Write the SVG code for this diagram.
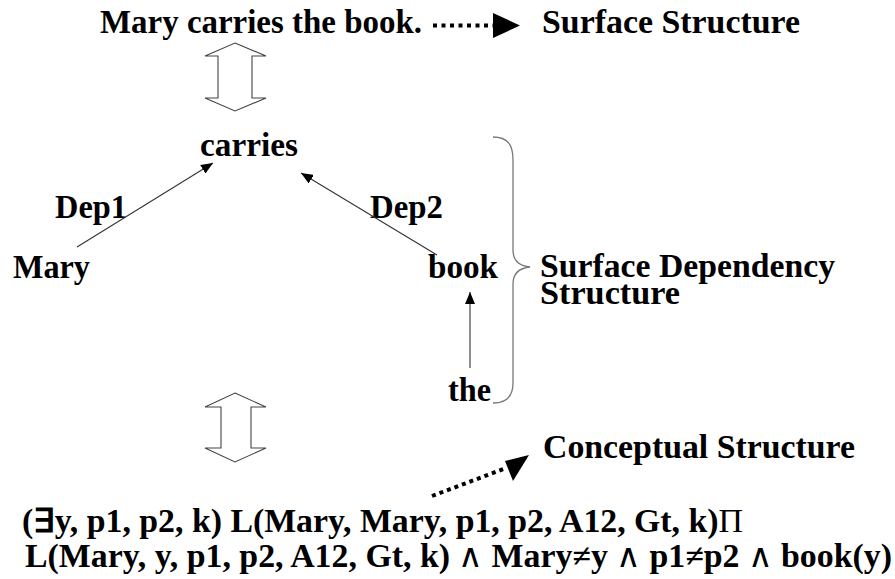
<svg xmlns="http://www.w3.org/2000/svg" width="895" height="579" viewBox="0 0 895 579">
  <style>
    .t { font-family: 'Liberation Serif', 'Times New Roman', Times, serif; font-weight: 700; fill: #000; font-size: 33px; }
    .thin { font-weight: 400; }
    .dep { stroke: #333; stroke-width: 1.1; fill: none; }
    .dbl { fill: #fff; stroke: #444; stroke-width: 1.1; }
    .brace { fill: none; stroke: #777; stroke-width: 1.3; }
    .dots { fill: none; stroke: #000; stroke-width: 4; }
  </style>
  <defs>
    <marker id="tip" viewBox="0 0 12 10" refX="12" refY="5" markerWidth="12" markerHeight="10" markerUnits="userSpaceOnUse" orient="auto">
      <path d="M0,0 L12,5 L0,10 z" fill="#000"/>
    </marker>
  </defs>

  <rect width="895" height="579" fill="#fff"/>

  <g font-family="Liberation Serif, serif" font-weight="bold">
    <!-- surface sentence -->
    <g id="sentence">
      <text class="t" x="100" y="33" textLength="322" lengthAdjust="spacingAndGlyphs">Mary carries the book.</text>
    </g>
    <g id="surface-structure">
      <text class="t" x="542" y="33" textLength="258" lengthAdjust="spacingAndGlyphs">Surface Structure</text>
    </g>

    <!-- dependency tree words -->
    <g id="carries"><text class="t" x="200" y="156" textLength="98" lengthAdjust="spacingAndGlyphs">carries</text></g>
    <g id="mary"><text class="t" x="13" y="278" textLength="77" lengthAdjust="spacingAndGlyphs">Mary</text></g>
    <g id="book"><text class="t" x="428" y="278" textLength="70" lengthAdjust="spacingAndGlyphs">book</text></g>
    <g id="the"><text class="t" x="448" y="401" textLength="43" lengthAdjust="spacingAndGlyphs">the</text></g>
    <g id="dep1"><text class="t" x="55" y="218" textLength="72" lengthAdjust="spacingAndGlyphs">Dep1</text></g>
    <g id="dep2"><text class="t" x="370" y="218" textLength="73" lengthAdjust="spacingAndGlyphs">Dep2</text></g>

    <g id="surface-dependency">
      <path class="brace" d="M493,137 C508,137 513,145 513,160 L513,250 C513,262 520,266 530,267 C520,268 513,272 513,284 L513,383 C513,396 506,403 493,403"/>
      <text class="t" x="540" y="277" textLength="295" lengthAdjust="spacingAndGlyphs">Surface Dependency</text>
      <text class="t" x="540" y="304" textLength="140" lengthAdjust="spacingAndGlyphs">Structure</text>
    </g>

    <g id="conceptual-structure">
      <text class="t" x="543" y="458" textLength="312" lengthAdjust="spacingAndGlyphs">Conceptual Structure</text>
    </g>

    <g id="formula">
      <text class="t" x="22" y="532" textLength="721" lengthAdjust="spacingAndGlyphs">(∃y, p1, p2, k) L(Mary, Mary, p1, p2, A12, Gt, k)<tspan class="thin">Π</tspan></text>
      <text class="t" x="25" y="567" textLength="867" lengthAdjust="spacingAndGlyphs">L(Mary, y, p1, p2, A12, Gt, k) <tspan class="thin">∧</tspan> Mary≠y <tspan class="thin">∧</tspan> p1≠p2 <tspan class="thin">∧</tspan> book(y)</text>
    </g>
  </g>

  <!-- connectors -->
  <g id="connectors">
    <line class="dep" x1="77" y1="247" x2="213" y2="163" marker-end="url(#tip)"/>
    <line class="dep" x1="437" y1="255" x2="301" y2="173" marker-end="url(#tip)"/>
    <line class="dep" x1="470" y1="368" x2="470" y2="292" marker-end="url(#tip)"/>

    <!-- dotted pointers to the level labels -->
    <line class="dots" x1="433" y1="25.5" x2="493" y2="25.5" stroke-dasharray="4 4.5"/>
    <polygon points="493,13 520,25.5 493,38" fill="#000"/>
    <line class="dots" x1="432" y1="496" x2="506" y2="468" stroke-dasharray="4 4"/>
    <polygon points="505,461 529,455 513,481" fill="#000"/>

    <!-- two-way block arrows between levels -->
    <path class="dbl" d="M235,43 L266,56 L252,56 L252,98 L266,98 L235,111 L205,98 L218,98 L218,56 L205,56 Z"/>
    <path class="dbl" d="M235,393 L266,407 L251,407 L251,448 L266,448 L235,462 L205,448 L221,448 L221,407 L205,407 Z"/>
  </g>
</svg>
